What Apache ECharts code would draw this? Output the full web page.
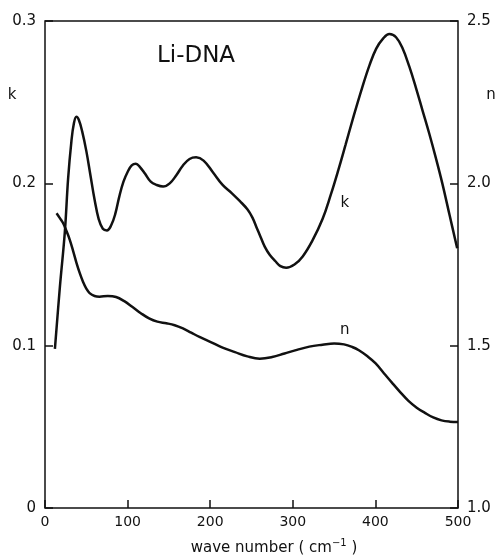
<!DOCTYPE html>
<html>
<head>
<meta charset="utf-8">
<script src="https://cdn.jsdelivr.net/npm/echarts@6/dist/echarts.min.js"></script>
<style>
  html, body { margin: 0; padding: 0; background: #fff; }
  #chart { width: 496px; height: 556px; }
</style>
</head>
<body>
<div id="chart"></div>
<script>
// Optical constants of Li-DNA versus wave number (cm^-1)
const kCurve = [
  [12, 0.098], [18, 0.136], [24, 0.170], [28, 0.203], [32, 0.226], [35, 0.237],
  [38, 0.241], [41, 0.239], [45, 0.232], [50, 0.220], [55, 0.205], [60, 0.190],
  [65, 0.178], [70, 0.172], [75, 0.171], [80, 0.174], [85, 0.181],
  [90, 0.192], [95, 0.201], [100, 0.207], [105, 0.211], [110, 0.212], [115, 0.210],
  [121, 0.206], [128, 0.201], [135, 0.199], [143, 0.198], [151, 0.200], [159, 0.205],
  [167, 0.211], [175, 0.215], [183, 0.216], [192, 0.214], [203, 0.207], [215, 0.199],
  [226, 0.194], [236, 0.189], [245, 0.184], [251, 0.179], [256, 0.173], [261, 0.167],
  [266, 0.161], [272, 0.156], [279, 0.152], [285, 0.149], [292, 0.148], [302, 0.150],
  [312, 0.155], [324, 0.165], [336, 0.178], [346, 0.193], [355, 0.208], [364, 0.224],
  [374, 0.242], [384, 0.259], [393, 0.273], [401, 0.283], [409, 0.289], [417, 0.292],
  [425, 0.290], [433, 0.283], [441, 0.272], [449, 0.259], [457, 0.245], [465, 0.231],
  [473, 0.216], [481, 0.200], [490, 0.180], [499, 0.160]
];

const nCurve = [
  [14, 1.908], [18, 1.893], [22, 1.877], [26, 1.853], [30, 1.826], [34, 1.792],
  [38, 1.756], [42, 1.724], [46, 1.697], [50, 1.676], [54, 1.662], [60, 1.653],
  [66, 1.651], [76, 1.653], [86, 1.650], [96, 1.637], [106, 1.619], [116, 1.600],
  [126, 1.584], [136, 1.574], [147, 1.569], [157, 1.563], [167, 1.553], [177, 1.540],
  [187, 1.527], [200, 1.512], [215, 1.494], [230, 1.480], [245, 1.467], [260, 1.460],
  [275, 1.465], [290, 1.476], [305, 1.487], [320, 1.497], [336, 1.503], [350, 1.507],
  [362, 1.504], [372, 1.496], [380, 1.486], [390, 1.468], [400, 1.446], [410, 1.416],
  [420, 1.386], [430, 1.357], [440, 1.330], [450, 1.309], [460, 1.293], [470, 1.279],
  [480, 1.270], [490, 1.266], [500, 1.265]
];

const xTicks = [0, 100, 200, 300, 400, 500];
const kTicks = [0, 0.1, 0.2, 0.3];
const nTicks = [1.0, 1.5, 2.0, 2.5];

const FONT = 'DejaVu Sans';
const INK = '#111';

const chart = echarts.init(document.getElementById('chart'), null, { renderer: 'canvas' });

const tickStyle = { show: true, inside: true, length: 8, lineStyle: { color: INK, width: 1.5 } };
const labelStyle = size => ({ color: INK, fontFamily: FONT, fontSize: size });

chart.setOption({
  animation: false,
  backgroundColor: '#fff',
  grid: { left: 45, right: 38, top: 21, bottom: 48, show: true, borderColor: INK, borderWidth: 1.5, backgroundColor: 'transparent' },
  xAxis: {
    type: 'value',
    min: xTicks[0], max: xTicks[xTicks.length - 1], interval: 100,
    axisLine: { show: false },
    axisTick: tickStyle,
    splitLine: { show: false },
    axisLabel: Object.assign({ margin: 7 }, labelStyle(14))
  },
  yAxis: [
    {
      type: 'value', position: 'left',
      min: kTicks[0], max: kTicks[kTicks.length - 1], interval: 0.1,
      axisLine: { show: false },
      axisTick: tickStyle,
      splitLine: { show: false },
      axisLabel: Object.assign({ margin: 9, formatter: v => v === 0 ? '0' : v.toFixed(1) }, labelStyle(15))
    },
    {
      type: 'value', position: 'right',
      min: nTicks[0], max: nTicks[nTicks.length - 1], interval: 0.5,
      axisLine: { show: false },
      axisTick: tickStyle,
      splitLine: { show: false },
      axisLabel: Object.assign({ margin: 9, formatter: v => v.toFixed(1) }, labelStyle(15))
    }
  ],
  series: [
    {
      name: 'k', type: 'line', yAxisIndex: 0, data: kCurve,
      showSymbol: false, smooth: 0.4,
      lineStyle: { color: INK, width: 2.5 }
    },
    {
      name: 'n', type: 'line', yAxisIndex: 1, data: nCurve,
      showSymbol: false, smooth: 0.4,
      lineStyle: { color: INK, width: 2.5 }
    }
  ]
});

// Curve tags placed through the axes' own scales
const kTag = chart.convertToPixel({ xAxisIndex: 0, yAxisIndex: 0 }, [363, 0.188]);
const nTag = chart.convertToPixel({ xAxisIndex: 0, yAxisIndex: 1 }, [363, 1.548]);

const txt = (x, y, text, size) => ({
  type: 'text', x: x, y: y,
  style: { text: text, fill: INK, font: size + 'px "' + FONT + '"', align: 'center', verticalAlign: 'middle' }
});

chart.setOption({
  graphic: [
    txt(196, 56, 'Li-DNA', 23),
    txt(12, 95, 'k', 15),
    txt(491, 95, 'n', 15),
    txt(kTag[0], kTag[1], 'k', 15),
    txt(nTag[0], nTag[1], 'n', 15),
    {
      type: 'text', x: 274, y: 547,
      style: {
        text: '{a|wave number ( cm}{s|−1}{a| )}',
        align: 'center', verticalAlign: 'middle',
        rich: {
          a: { fill: INK, fontFamily: FONT, fontSize: 15, verticalAlign: 'bottom', lineHeight: 18 },
          s: { fill: INK, fontFamily: FONT, fontSize: 10, verticalAlign: 'top', lineHeight: 18, padding: [0, 0, 8, 0] }
        }
      }
    }
  ]
});
</script>
</body>
</html>
